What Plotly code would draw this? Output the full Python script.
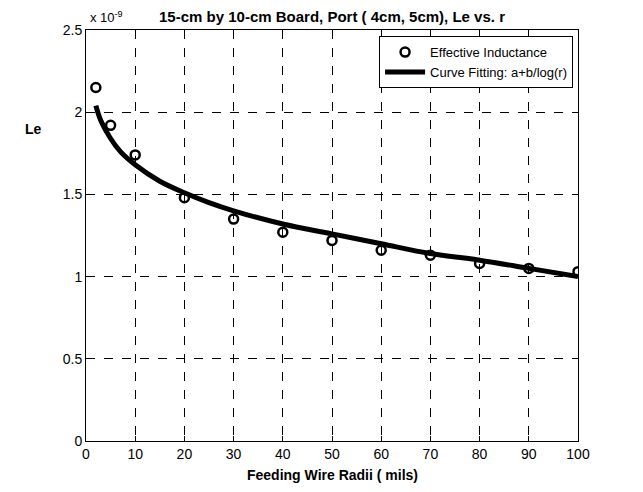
import plotly.graph_objects as go

# Effective inductance (units of 1e-9 H) vs feeding wire radius (mils)
r_points = [2, 5, 10, 20, 30, 40, 50, 60, 70, 80, 90, 100]
le_points = [2.15, 1.92, 1.74, 1.48, 1.35, 1.27, 1.22, 1.16, 1.13, 1.08, 1.05, 1.03]

# Curve fitting a+b/log(r)
r_fit = [2, 3, 5, 7, 10, 15, 20, 25, 30, 40, 50, 60, 70, 80, 90, 100]
le_fit = [2.04, 1.95, 1.84, 1.76, 1.68, 1.58, 1.51, 1.45, 1.40, 1.32, 1.26, 1.20, 1.14, 1.10, 1.05, 1.00]

x_ticks = [0, 10, 20, 30, 40, 50, 60, 70, 80, 90, 100]
y_ticks = [0, 0.5, 1, 1.5, 2, 2.5]
y_tick_text = ["0", "0.5", "1", "1.5", "2", "2.5"]

font_family = "Liberation Sans, Arial, sans-serif"

fig = go.Figure()
fig.add_trace(go.Scatter(
    x=r_points, y=le_points, mode="markers", name="Effective Inductance",
    marker=dict(symbol="circle-open", size=9, color="black", line=dict(width=2.5, color="black")),
))
fig.add_trace(go.Scatter(
    x=r_fit, y=le_fit, mode="lines", name="Curve Fitting: a+b/log(r)",
    line=dict(color="black", width=5, shape="spline"),
))

axis_common = dict(
    showline=True, linecolor="black", linewidth=1, mirror="allticks",
    ticks="inside", ticklen=5, tickcolor="black",
    showgrid=True, gridcolor="black", gridwidth=1, griddash="dash",
    zeroline=False, tickfont=dict(family=font_family, size=14, color="black"),
)

fig.update_layout(
    width=643, height=492,
    margin=dict(l=86, r=65, t=30, b=51),
    paper_bgcolor="white", plot_bgcolor="white",
    showlegend=True,
    legend=dict(
        x=0.99, y=0.985, xanchor="right", yanchor="top",
        bgcolor="white", bordercolor="black", borderwidth=1,
        font=dict(family=font_family, size=13, color="black"),
        tracegroupgap=0, itemwidth=40,
    ),
    xaxis=dict(range=[0, 100], tickvals=x_ticks, **axis_common),
    yaxis=dict(range=[0, 2.5], tickvals=y_ticks, ticktext=y_tick_text, **axis_common),
    annotations=[
        dict(text="<b>15-cm by 10-cm Board, Port ( 4cm, 5cm), Le vs. r</b>", x=0.5, y=1.0,
             xref="paper", yref="paper", xanchor="center", yanchor="bottom", yshift=3,
             showarrow=False, font=dict(family=font_family, size=15, color="black")),
        dict(text="x 10<sup>-9</sup>", x=0, y=1.0, xref="paper", yref="paper",
             xanchor="left", yanchor="bottom", yshift=3, xshift=2,
             showarrow=False, font=dict(family=font_family, size=13, color="black")),
        dict(text="<b>Feeding Wire Radii ( mils)</b>", x=0.5, y=0, xref="paper", yref="paper",
             xanchor="center", yanchor="top", yshift=-24,
             showarrow=False, font=dict(family=font_family, size=14, color="black")),
        dict(text="<b>Le</b>", x=0, y=0.76, xref="paper", yref="paper",
             xanchor="right", yanchor="middle", xshift=-42,
             showarrow=False, font=dict(family=font_family, size=14, color="black")),
    ],
)

fig.write_html("out.html")
